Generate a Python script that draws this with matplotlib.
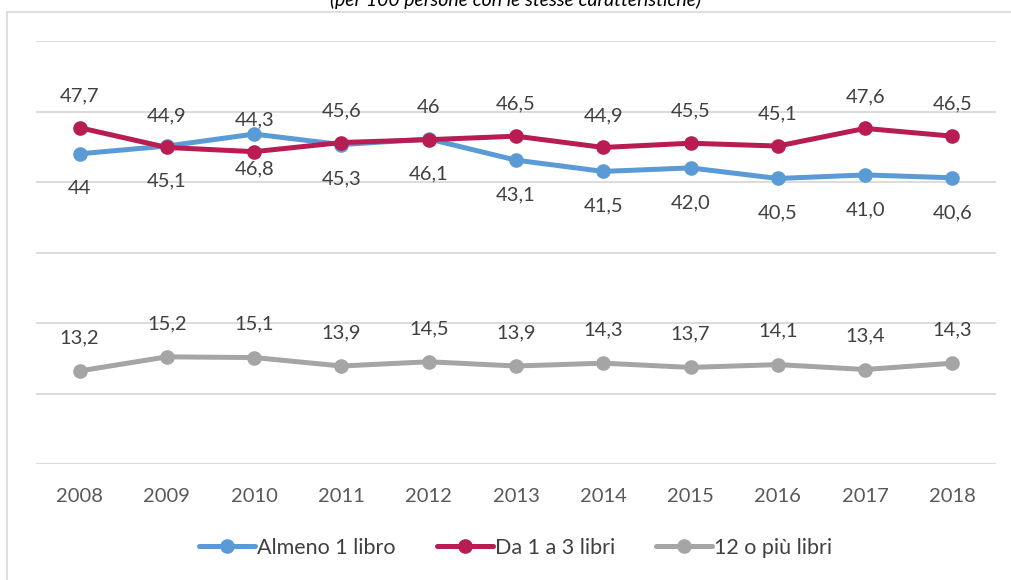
import numpy as np
import matplotlib.pyplot as plt
from matplotlib.lines import Line2D

years = ["2008", "2009", "2010", "2011", "2012", "2013", "2014", "2015", "2016", "2017", "2018"]
almeno1 = [44, 45.1, 46.8, 45.3, 46.1, 43.1, 41.5, 42.0, 40.5, 41.0, 40.6]
da1a3 = [47.7, 44.9, 44.3, 45.6, 46, 46.5, 44.9, 45.5, 45.1, 47.6, 46.5]
piu12 = [13.2, 15.2, 15.1, 13.9, 14.5, 13.9, 14.3, 13.7, 14.1, 13.4, 14.3]
lab_almeno1 = ["44", "45,1", "46,8", "45,3", "46,1", "43,1", "41,5", "42,0", "40,5", "41,0", "40,6"]
lab_da1a3 = ["47,7", "44,9", "44,3", "45,6", "46", "46,5", "44,9", "45,5", "45,1", "47,6", "46,5"]
lab_piu12 = ["13,2", "15,2", "15,1", "13,9", "14,5", "13,9", "14,3", "13,7", "14,1", "13,4", "14,3"]

plt.rcParams['font.family'] = ['Lato', 'DejaVu Sans']

W, H = 1011, 580
fig = plt.figure(figsize=(W/100, H/100), dpi=100)
ax = fig.add_axes([36/W, 1-464/H, 960/W, 423/H])

x = np.arange(len(years))
series = [
    (almeno1, lab_almeno1, "#5B9BD5", "Almeno 1 libro", -25),
    (da1a3, lab_da1a3, "#B71C52", "Da 1 a 3 libri", 23),
    (piu12, lab_piu12, "#A5A5A5", "12 o più libri", 24),
]
for vals, labs, col, name, off in series:
    ax.plot(x, vals, color=col, lw=3.6, marker='o', ms=9.5, label=name,
            solid_capstyle='round')
    for xi, v, t in zip(x, vals, labs):
        ax.annotate(t, (xi, v), xytext=(0, off), textcoords='offset points',
                    ha='center', va='center', fontsize=14.5, color='#404040')

ax.set_xlim(-0.5, len(years)-0.5)
ax.set_ylim(0, 60)
ax.set_yticks(np.arange(0, 61, 10))
ax.set_yticklabels([])
ax.tick_params(axis='y', length=0)
ax.set_xticks(x)
ax.set_xticklabels(years, fontsize=14.5, color='#595959')
ax.tick_params(axis='x', length=0, pad=17)
ax.grid(axis='y', color='#D9D9D9', lw=1.3)
ax.set_axisbelow(True)
for s in ax.spines.values():
    s.set_visible(False)

fig.legend(loc='center', bbox_to_anchor=(0.51, 1-548/H), ncol=3, frameon=False,
           fontsize=15.5, handlelength=2.6, handletextpad=0.1, columnspacing=1.9,
           labelcolor='#404040')

fig.text(0.51, 1-6/H, "(per 100 persone con le stesse caratteristiche)",
         ha='center', va='baseline', fontsize=14, style='italic', color='#000000')

fig.add_artist(Line2D([7/W, 1], [1-12/H, 1-12/H], color='#D9D9D9', lw=1.2, transform=fig.transFigure))
fig.add_artist(Line2D([7/W, 7/W], [0, 1-12/H], color='#D9D9D9', lw=1.2, transform=fig.transFigure))

fig.savefig("out.png", dpi=100, facecolor='white')
